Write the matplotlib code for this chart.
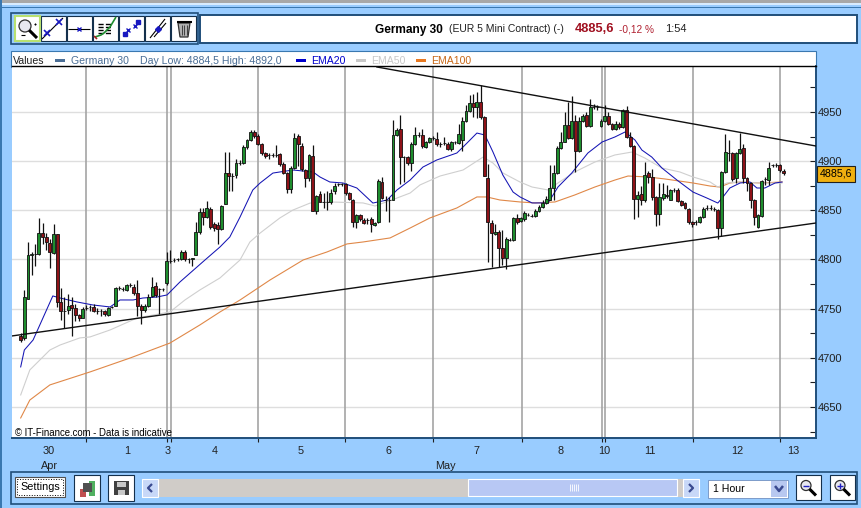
import matplotlib
matplotlib.use('Agg')
import matplotlib.pyplot as plt
from matplotlib.patches import Rectangle, Circle, Polygon
import numpy as np

plt.rcParams['font.family'] = ['Liberation Sans', 'DejaVu Sans']

# hourly candles
opens = [4722,4720,4760,4805,4806,4806,4827,4823,4817,4807,
         4826,4757,4748,4749,4754,4751,4744,4740,4751,4752,
         4752,4748,4748,4748,4744,4752,4753,4771,4770,4769,
         4774,4772,4766,4753,4749,4753,4763,4773,4770,4770,
         4776,4798,4799,4800,4800,4808,4800,4800,4805,4828,
         4848,4843,4851,4836,4835,4831,4856,4888,4885,4886,
         4898,4898,4914,4922,4930,4926,4917,4908,4906,4906,
         4906,4907,4897,4888,4872,4893,4926,4915,4891,4883,
         4905,4849,4867,4858,4858,4858,4870,4877,4877,4877,
         4868,4861,4838,4845,4840,4840,4841,4835,4838,4879,
         4861,4860,4861,4927,4933,4904,4904,4898,4917,4927,
         4927,4914,4919,4924,4923,4917,4918,4917,4912,4919,
         4918,4922,4941,4951,4959,4955,4960,4945,4883,4837,
         4826,4828,4812,4802,4820,4820,4842,4839,4841,4845,
         4844,4844,4849,4853,4857,4861,4873,4888,4913,4920,
         4937,4924,4941,4910,4941,4947,4936,4955,4955,4936,
         4941,4946,4938,4933,4938,4935,4952,4925,4915,4862,
         4867,4860,4888,4884,4864,4846,4863,4866,4861,4871,
         4871,4859,4857,4851,4838,4838,4838,4843,4852,4852,
         4851,4850,4832,4889,4908,4908,4883,4908,4913,4883,
         4878,4861,4833,4844,4882,4881,4896,4896,4896,4890]
highs = [4725,4769,4818,4808,4816,4842,4837,4827,4821,4836,
         4826,4771,4762,4765,4762,4755,4745,4752,4754,4754,
         4755,4751,4750,4749,4752,4753,4772,4773,4772,4775,
         4776,4775,4779,4755,4755,4765,4782,4777,4771,4771,
         4808,4810,4801,4802,4810,4810,4802,4802,4838,4852,
         4852,4859,4853,4838,4838,4855,4909,4909,4888,4902,
         4901,4916,4923,4932,4932,4928,4918,4909,4908,4908,
         4916,4908,4899,4889,4895,4929,4928,4918,4892,4907,
         4916,4866,4870,4868,4870,4872,4878,4878,4878,4878,
         4869,4862,4846,4846,4842,4842,4843,4838,4882,4884,
         4865,4864,4942,4934,4947,4905,4905,4920,4935,4930,
         4933,4921,4925,4926,4930,4920,4925,4920,4921,4921,
         4938,4945,4957,4967,4968,4970,4977,4946,4897,4840,
         4836,4830,4830,4823,4822,4843,4846,4843,4849,4847,
         4846,4851,4855,4860,4865,4896,4896,4915,4930,4950,
         4960,4966,4947,4945,4948,4950,4963,4958,4957,4943,
         4957,4950,4939,4941,4940,4953,4956,4930,4916,4870,
         4875,4899,4890,4892,4865,4878,4878,4876,4872,4873,
         4873,4860,4858,4852,4839,4840,4844,4853,4855,4855,
         4853,4851,4890,4928,4922,4909,4909,4929,4917,4884,
         4879,4862,4846,4881,4884,4899,4897,4898,4897,4892]
lows = [4716,4718,4760,4784,4793,4805,4816,4810,4791,4806,
        4752,4738,4730,4745,4722,4737,4737,4740,4749,4748,
        4747,4745,4743,4743,4743,4751,4753,4769,4768,4768,
        4772,4764,4742,4734,4747,4752,4762,4762,4745,4768,
        4774,4796,4797,4798,4799,4798,4796,4793,4805,4826,
        4835,4842,4831,4829,4816,4830,4856,4870,4870,4883,
        4896,4897,4912,4921,4924,4916,4906,4903,4902,4904,
        4904,4895,4887,4868,4868,4892,4895,4890,4874,4880,
        4849,4846,4858,4852,4850,4856,4867,4875,4875,4866,
        4860,4833,4832,4839,4836,4836,4828,4834,4837,4862,
        4849,4838,4860,4926,4877,4879,4896,4890,4916,4925,
        4913,4913,4918,4922,4915,4914,4916,4911,4910,4917,
        4917,4910,4940,4950,4945,4944,4943,4885,4797,4792,
        4825,4792,4794,4790,4819,4819,4836,4838,4839,4844,
        4843,4843,4848,4852,4856,4860,4860,4887,4912,4919,
        4923,4923,4889,4909,4940,4935,4935,4953,4952,4935,
        4940,4937,4932,4932,4933,4934,4924,4914,4841,4843,
        4855,4858,4878,4860,4834,4835,4860,4863,4860,4869,
        4858,4854,4851,4836,4833,4835,4837,4842,4850,4850,
        4849,4821,4824,4888,4900,4880,4878,4907,4878,4870,
        4852,4835,4832,4843,4876,4876,4894,4894,4889,4886]
closes = [4718,4762,4805,4806,4806,4827,4823,4818,4808,4826,
          4757,4748,4748,4753,4751,4744,4740,4750,4751,4752,
          4748,4748,4748,4745,4751,4752,4771,4771,4770,4774,
          4774,4766,4753,4749,4753,4762,4772,4764,4770,4770,
          4798,4798,4799,4800,4808,4800,4800,4801,4828,4848,
          4843,4852,4833,4832,4831,4854,4888,4885,4885,4898,
          4898,4914,4922,4930,4926,4917,4908,4905,4906,4906,
          4906,4897,4888,4872,4893,4924,4917,4892,4883,4906,
          4849,4865,4858,4858,4858,4868,4875,4877,4877,4868,
          4862,4838,4845,4841,4837,4840,4836,4837,4880,4863,
          4861,4860,4927,4932,4904,4904,4898,4917,4927,4927,
          4915,4919,4924,4924,4917,4917,4918,4912,4919,4919,
          4928,4941,4951,4959,4955,4960,4945,4885,4838,4827,
          4828,4812,4802,4821,4820,4842,4838,4842,4847,4845,
          4844,4849,4853,4857,4862,4873,4888,4913,4919,4937,
          4924,4941,4910,4941,4946,4936,4955,4955,4955,4941,
          4946,4938,4933,4938,4935,4952,4925,4915,4862,4866,
          4860,4886,4884,4864,4846,4864,4867,4865,4871,4871,
          4859,4855,4852,4838,4836,4838,4843,4851,4852,4852,
          4851,4832,4889,4909,4908,4882,4908,4912,4883,4878,
          4861,4843,4845,4880,4882,4893,4896,4896,4891,4888]

ema20_idx = [0,1,3.4,6.1,8.8,10.8,15.4,19.8,24.5,27.2,30.8,33.5,37.3,40.1,43.6,50.5,54.6,57.3,60.1,63.6,
             65.6,69.1,71,74.6,80.1,82,84.7,88.3,92.1,96.5,100.4,103.1,106.7,110.2,114,119.5,121.2,125,127.2,129.4,
             132.1,134.9,136.8,140.1,144.5,147.2,151,155.4,159.3,162.8,165.6,168.3,170.2,172.9,175.7,179.8,184.2,188,191,192.4,
             194.3,197.1,199.8,201.7,203.9,206.7,208.6]
ema20 = [4690.7,4707.9,4718.1,4740.5,4762.9,4760.8,4756.8,4753.7,4751.7,4758.8,4758.8,4760.8,4761.8,4763.9,4777,4799.5,4812.7,4822.9,4843.2,4870.7,
         4877.8,4887.9,4889,4891,4889,4883.9,4878.8,4877.8,4872.7,4857.4,4860.5,4870.7,4880.8,4894,4901.2,4908.3,4914.4,4928.6,4926.6,4909.3,
         4885.9,4868.6,4863.6,4857.5,4857.5,4873.7,4888,4908.3,4919.5,4924.6,4929.7,4921.5,4911.3,4904.2,4893,4880.8,4868.6,4862.5,4857.4,4863.5,
         4872.7,4877.8,4878.8,4872.7,4872.7,4877.8,4878.8]
ema50_idx = [0,2.5,8,10.8,16.2,19,24.5,31.9,40.9,45,49.1,54.6,60.1,62.8,65.6,71,74.6,79.3,84.7,93.8,
             97.1,103.1,106.7,109.4,114.9,121.2,126.7,129.4,132.1,136.8,140.1,144.5,147.2,151.8,157.3,162.8,167.5,171,175.7,180.6,
             184.2,188.9,191,193.5,197.1,202.6,208.6]
ema50 = [4662.2,4687.6,4707.9,4713,4720.2,4721.2,4728.3,4740.5,4746.6,4758.8,4769,4781.2,4799.5,4817.8,4826.9,4842.2,4850.3,4857.4,4858.5,4857.5,
         4854.4,4862.5,4867.6,4875.8,4884.9,4891,4904.2,4898.1,4888,4878.8,4873.7,4870.7,4877.8,4889,4899.1,4906.3,4909.3,4903.2,4893,4889,
         4883.9,4878.8,4873.7,4877.8,4878.8,4877.8,4877.8]
ema100_idx = [0,2.5,8,19,30,40.9,49.1,54.6,60.1,68.3,77.4,83.9,89.4,93.8,101.2,106.7,112.1,119.5,125,127.7,
              131.3,136.8,140.9,146.4,151.8,157.3,162.8,166.4,171.9,176.5,184.2,188.9,191.6,194.3,197.1,202.6,208.6]
ema100 = [4638.8,4657,4672.4,4685.6,4699.8,4715,4733.4,4746.6,4758.8,4779.1,4799.5,4807.6,4815.8,4817.8,4821.9,4832,4842.2,4852.4,4863.6,4863.6,
          4860.5,4858.5,4857.5,4858.5,4865.6,4873.7,4880.8,4884.9,4883.9,4881.9,4877.8,4874.7,4873.7,4877.8,4878.8,4877.8,4878.8]

# hand drawn trend lines
upper_idx = [97.6, 217.9]
upper_val = [4995.8, 4915.4]
lower_idx = [-2.4, 217.9]
lower_val = [4722.2, 4837.1]

day_lines = [18, 40, 41.1, 65.1, 88.9, 113, 137.3, 159.2, 160.2, 184.3, 208.1]
day_labels = ['30', '1', '3', '4', '5', '6', '7', '8', '10', '11', '12', '13']
day_pos = [7.8, 29.1, 40.4, 53.2, 76.8, 100.9, 125, 148, 159.8, 172.4, 196.2, 211.6]
month_labels = ['Apr', 'May']
month_pos = [8, 116.5]
price_major = [4650, 4700, 4750, 4800, 4850, 4900, 4950]
price_minor = [4625, 4675, 4725, 4775, 4825, 4875, 4925, 4975]
last_price = 4885.6

BG = '#99CCFF'
DARK = '#1F4E7A'
MID = '#3A78B0'
GREEN = '#1E8E2E'
RED = '#8E1218'

fig = plt.figure(figsize=(8.61, 5.08), dpi=100, facecolor=BG)

# window furniture, in pixels
ui = fig.add_axes([0, 0, 1, 1])
ui.set_xlim(0, 861)
ui.set_ylim(508, 0)
ui.axis('off')


def box(x0, y0, x1, y1, fc='white', ec='none', lw=1.0, z=2):
    ui.add_patch(Rectangle((x0, y0), x1 - x0, y1 - y0, fc=fc, ec=ec, lw=lw, zorder=z))


def seg(xs, ys, c='black', lw=1.0, z=4, **kw):
    ui.plot(xs, ys, color=c, lw=lw, zorder=z, solid_capstyle='butt', **kw)


def lens(cx, cy, r=5.5, plus=None):
    ui.add_patch(Circle((cx, cy), r, fc='#E8E8F0', ec='#303030', lw=0.9, zorder=4))
    seg([cx + r * 0.7, cx + r * 2.0], [cy + r * 0.7, cy + r * 2.0], lw=2.2)
    if plus is not None:
        seg([cx - 3, cx + 3], [cy, cy], c='#2020C0', lw=1)
        if plus:
            seg([cx, cx], [cy - 3, cy + 3], c='#2020C0', lw=1)


box(0, 0, 861, 2.5, fc='#A8A8A8')
box(0, 3, 861, 4.5, fc='#D8ECFF')
box(0, 6.5, 861, 7.5, fc=MID)
box(0, 0, 2, 508, fc=MID)

# top toolbar
box(11, 13, 197.5, 44, fc=BG, ec=DARK, lw=1.2)
for x0 in [15, 41, 67, 93, 119, 145, 171]:
    box(x0, 16, x0 + 24.5, 40.5, fc='white', ec='#14304C', lw=0.8, z=3)
box(15, 16, 39.5, 40.5, fc='white', ec='#B8E070', lw=1.5, z=3)
lens(25, 26, r=6)
seg([34, 36], [24, 24], lw=0.8)
seg([35, 35], [23, 25], lw=0.8)
seg([21, 25], [35, 35], lw=0.8)
seg([42, 63], [39, 18], lw=0.8)
seg([47, 59], [33, 22], c='#1818C0', lw=0, marker='x', ms=4, mew=1.2)
seg([68, 90], [28.5, 28.5], lw=0.8)
seg([79], [28.5], c='#1818C0', lw=0, marker='x', ms=3.5, mew=1)
for yy in [24, 27, 30, 33]:
    seg([98, 111], [yy, yy], lw=1, ls='--')
seg([95, 101, 104, 110, 116], [37, 35, 33, 27, 17], c='#1E8E2E', lw=1.2)
seg([94, 97], [36, 39], c='#A02020', lw=1.2)
seg([125, 138], [34, 22], c='#1818C0', lw=0, marker='s', ms=2.5)
seg([128, 135], [30, 26], c='#1818C0', lw=0, marker='x', ms=3, mew=1)
seg([150, 165], [38, 19], lw=0.8)
seg([154, 166], [37, 23], lw=0.8)
seg([158], [29], c='#1818C0', lw=0, marker='D', ms=3)
ui.add_patch(Polygon([[178, 23], [190, 23], [188, 37], [180, 37]], fc='#B0B0B0', ec='#303030', lw=0.9, zorder=4))
seg([176.5, 191.5], [22, 22], lw=1.5)
for xx in [181.5, 184, 186.5]:
    seg([xx, xx], [25, 35], c='#404040', lw=0.7)

# title box
box(200, 15, 857, 42.5, fc='white', ec=DARK, lw=1.4)
ui.text(375, 29.5, 'Germany 30', fontsize=8.6, fontweight='bold', va='center', color='black', zorder=5)
ui.text(449, 29.5, '(EUR 5 Mini Contract) (-)', fontsize=7.5, va='center', color='#202020', zorder=5)
ui.text(575, 29.5, '4885,6', fontsize=9.3, fontweight='bold', va='center', color='#A01020', zorder=5)
ui.text(619, 29.5, '-0,12 %', fontsize=7.3, va='center', color='#B02030', zorder=5)
ui.text(665, 29.5, '1:54', fontsize=8, va='center', color='#202020', zorder=5)

# legend strip above the chart
box(10.5, 50.5, 816, 67, fc='white', ec=MID, lw=0.8)
ui.text(13, 60.5, 'Values', fontsize=7.6, va='center', color='#202020', zorder=5)
box(55, 58.5, 65, 62, fc='#4A6E96', z=5)
ui.text(71, 60.5, 'Germany 30', fontsize=7.6, va='center', color='#4A6E96', zorder=5)
ui.text(140, 60.5, 'Day Low: 4884,5 High: 4892,0', fontsize=7.6, va='center', color='#4A6E96', zorder=5)
box(296, 58.5, 306, 62, fc='#0000CC', z=5)
ui.text(311, 60.5, 'EMA20', fontsize=7.6, va='center', color='#0000CC', zorder=5)
box(356, 58.5, 366, 62, fc='#C8C8C8', z=5)
ui.text(371, 60.5, 'EMA50', fontsize=7.6, va='center', color='#C8C8C8', zorder=5)
box(416, 58.5, 426, 62, fc='#E87820', z=5)
ui.text(431, 60.5, 'EMA100', fontsize=7.6, va='center', color='#C86818', zorder=5)

# bottom bar
box(11, 472, 857, 504, fc=BG, ec=DARK, lw=1.2)
box(15, 477, 65, 497, fc='white', ec='#505050', lw=0.8, z=3)
ui.add_patch(Rectangle((17, 479), 46, 16, fc='none', ec='black', lw=0.7, ls=':', zorder=4))
ui.text(40, 487.5, 'Settings', fontsize=7.8, ha='center', va='center', color='black', zorder=5)
box(74, 475, 100, 500.5, fc='white', ec='#14304C', lw=0.8, z=3)
box(80, 489, 86, 497, fc='#C05050', z=4)
box(89, 481, 95, 496, fc='#50B060', z=4)
box(83, 483, 92, 492, fc='#505050', z=5)
box(108, 475, 134, 500.5, fc='white', ec='#14304C', lw=0.8, z=3)
box(114, 481, 129, 495, fc='#404040', z=4)
box(117, 482, 126, 487, fc='#C8C8C8', z=5)
box(118, 490, 125, 495, fc='#C8C8C8', z=5)
box(158, 479, 468, 496.5, fc='#D0CCC8')
box(142, 479, 158, 496.5, fc='#C8D8F8', ec='white', lw=0.8, z=3)
seg([152, 148, 152], [484, 488, 492], c='#3A4A90', lw=1.6)
box(468, 479, 677, 496, fc='#B8C8F4', ec='white', lw=0.8, z=3)
for xx in [570, 572, 574, 576, 578]:
    seg([xx, xx], [484, 491], c='white', lw=0.6)
box(677, 479, 683, 496.5, fc='#D0CCC8')
box(683, 479, 699, 496.5, fc='#C8D8F8', ec='white', lw=0.8, z=3)
seg([689, 693, 689], [484, 488, 492], c='#3A4A90', lw=1.6)
box(708, 480, 788, 498, fc='white', ec='#7090C0', lw=0.6, z=3)
ui.text(713, 489.5, '1 Hour', fontsize=7.6, va='center', color='black', zorder=5)
box(771, 481, 787, 497, fc='#B8C8F0', z=4)
seg([775, 779, 783], [486, 491, 486], c='#3A4A90', lw=1.8)
box(796, 475, 821, 500, fc='white', ec='#14304C', lw=0.8, z=3)
lens(806, 485.5, r=5, plus=False)
box(830, 475, 855, 500, fc='white', ec='#14304C', lw=0.8, z=3)
lens(840, 485.5, r=5, plus=True)

# chart
ax = fig.add_axes([12 / 861, (508 - 438) / 508, 804 / 861, 372 / 508], facecolor='white')
idx = np.arange(len(opens))
o = np.array(opens)
c = np.array(closes)
ax.set_xlim(-2.38, 217.9)
ax.set_ylim(4618.4, 4996.8)

for y in price_major:
    ax.axhline(y, color='#DEDEDE', lw=1.0, zorder=1)
for x in day_lines:
    ax.axvline(x, color='#A4A4A4', lw=1.2, zorder=1)

ax.plot(ema100_idx, ema100, color='#E08848', lw=0.8, zorder=2)
ax.plot(ema50_idx, ema50, color='#CFCFCF', lw=0.8, zorder=2)
ax.plot(ema20_idx, ema20, color='#1414B4', lw=0.75, zorder=2)

ax.vlines(idx, lows, highs, color='#101010', lw=0.9, zorder=3)
body_colors = [GREEN if b > a else RED if b < a else '#101010' for a, b in zip(opens, closes)]
ax.bar(idx, np.abs(c - o), bottom=np.minimum(o, c), width=0.8, color=body_colors,
       edgecolor='#101010', linewidth=0.6, zorder=4)

ax.plot(upper_idx, upper_val, color='#101010', lw=1.0, zorder=5)
ax.plot(lower_idx, lower_val, color='#101010', lw=1.0, zorder=5)

# ticks and labels
ax.yaxis.tick_right()
ax.set_yticks(price_major)
ax.set_yticks(price_minor, minor=True)
ax.tick_params(axis='y', which='both', direction='in', length=4, width=0.8, color='#202020',
               labelsize=8, labelcolor='#202020', pad=1)
ax.set_xticks(day_lines)
ax.set_xticklabels([])
ax.set_xticks(day_pos, minor=True)
ax.set_xticklabels(day_labels, minor=True)
ax.tick_params(axis='x', which='major', direction='out', length=3, width=0.8, color='#202020')
ax.tick_params(axis='x', which='minor', length=0, labelsize=7.8, labelcolor='#202020', pad=5.5)
for pos, lab in zip(month_pos, month_labels):
    ax.text(pos, -28 / 372, lab, transform=ax.get_xaxis_transform(), fontsize=7.8, color='#202020',
            ha='center', va='center', clip_on=False)

ax.text(3 / 804, 5 / 372, '\u00a9 IT-Finance.com - Data is indicative', transform=ax.transAxes,
        fontsize=6.9, color='black', va='center', zorder=6)
ax.text(1 + 4 / 804, last_price + 1.5, '4885,6', transform=ax.get_yaxis_transform(), fontsize=7.7, color='black',
        va='center', clip_on=False, zorder=7,
        bbox=dict(boxstyle='square,pad=0.25', fc='#F0B010', ec='#202020', lw=0.8))

ax.spines['left'].set_visible(False)
ax.spines['top'].set_color('black')
ax.spines['top'].set_linewidth(1.0)
ax.spines['right'].set_color(DARK)
ax.spines['right'].set_linewidth(1.4)
ax.spines['bottom'].set_color(DARK)
ax.spines['bottom'].set_linewidth(1.4)

fig.savefig('out.png', dpi=100, facecolor=fig.get_facecolor())
